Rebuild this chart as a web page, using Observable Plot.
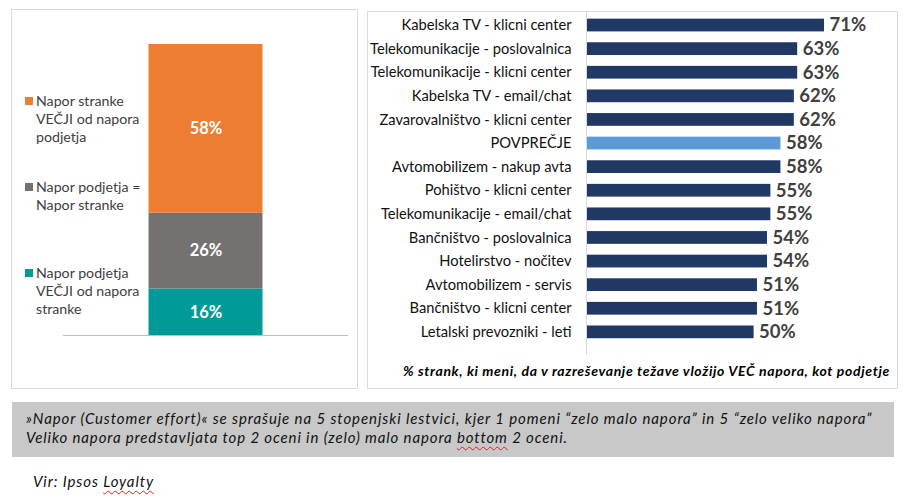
<!DOCTYPE html>
<html><head><meta charset="utf-8">
<script src="https://cdn.jsdelivr.net/npm/d3@7"></script>
<script src="https://cdn.jsdelivr.net/npm/@observablehq/plot@0.6"></script>
<style>
body{margin:0;background:#fff;font-family:Lato,"Open Sans",sans-serif;}
#page{position:relative;width:907px;height:498px;overflow:hidden;background:#fff;}
.box{position:absolute;border:1px solid #d9d9d9;box-sizing:border-box;}
.box svg{position:absolute;left:0;top:0;overflow:visible;}
.leg{position:absolute;left:13px;font-size:14.2px;line-height:18px;color:#404040;}
.leg .sw{position:absolute;left:0;top:5px;width:8px;height:8px;}
.leg .tx{position:absolute;left:11px;top:0;width:114px;}
#caption{position:absolute;right:7px;top:350px;font-size:14px;font-weight:bold;font-style:italic;color:#000;white-space:nowrap;}
#note{position:absolute;left:12px;top:402px;width:882px;height:55px;background:#c8c8c8;box-sizing:border-box;padding:7px 0 0 14px;font-size:15px;line-height:19px;font-style:italic;color:#111;white-space:nowrap;}
#src{position:absolute;left:33px;top:472px;font-size:15px;font-style:italic;color:#111;white-space:nowrap;}
.sq{text-decoration:underline wavy #e02020;text-decoration-thickness:1px;text-underline-offset:3px;}
</style></head><body>
<div id="page">
  <div id="left" class="box" style="left:11px;top:9px;width:347px;height:380px;"></div>
  <div id="right" class="box" style="left:367px;top:11px;width:531px;height:378px;">
    <div id="caption"><span id="capText">% strank, ki meni, da v razreševanje težave vložijo VEČ napora, kot podjetje</span></div>
  </div>
  <div id="note"><span id="l1">»Napor (Customer effort)« se sprašuje na 5 stopenjski lestvici, kjer 1 pomeni “zelo malo napora” in 5 “zelo veliko napora”</span><br><span id="l2">Veliko napora predstavljata top 2 oceni in (zelo) malo napora <span class="sq">bottom</span> 2 oceni.</span></div>
  <div id="src"><span id="srcText">Vir: Ipsos <span class="sq">Loyalty</span></span></div>
</div>
<script>
// ---- Left chart data ----
const segments = ["Napor podjetja VEČJI od napora stranke", "Napor podjetja = Napor stranke", "Napor stranke VEČJI od napora podjetja"];
const shares = [16, 26, 58];
const segmentColors = ["#009B98", "#767171", "#ED7D31"];
const groupName = "Skupaj";

// ---- Right chart data ----
const categories = [
  "Kabelska TV - klicni center",
  "Telekomunikacije - poslovalnica",
  "Telekomunikacije - klicni center",
  "Kabelska TV - email/chat",
  "Zavarovalništvo - klicni center",
  "POVPREČJE",
  "Avtomobilizem - nakup avta",
  "Pohištvo - klicni center",
  "Telekomunikacije - email/chat",
  "Bančništvo - poslovalnica",
  "Hotelirstvo - nočitev",
  "Avtomobilizem - servis",
  "Bančništvo - klicni center",
  "Letalski prevozniki - leti"
];
const values = [71, 63, 63, 62, 62, 58, 58, 55, 55, 54, 54, 51, 51, 50];
const averageLabel = "POVPREČJE";

// ---- Left: stacked column ----
const leftData = segments.map((s, i) => ({group: groupName, segment: s, share: shares[i]}));
const left = Plot.plot({
  width: 345, height: 378,
  marginTop: 34, marginBottom: 53, marginLeft: 51, marginRight: 9,
  style: {fontFamily: "Lato, sans-serif", background: "transparent"},
  x: {domain: [groupName], padding: 0.4286, round: false, axis: null},
  y: {domain: [0, 100], axis: null},
  color: {domain: segments, range: segmentColors},
  marks: [
    Plot.barY(leftData, {x: "group", y: "share", fill: "segment", order: null}),
    Plot.ruleY([0], {stroke: "#bfbfbf"}),
    Plot.text(leftData, Plot.stackY({x: "group", y: "share", order: null, text: d => d.share + "%",
      fill: "white", fontWeight: "bold", fontSize: 16.5}))
  ]
});
const leftBox = document.getElementById("left");
leftBox.appendChild(left);
const legendTops = {2: 82, 1: 168, 0: 254};
[2, 1, 0].forEach(i => {
  const d = document.createElement("div");
  d.className = "leg";
  d.style.top = legendTops[i] + "px";
  d.innerHTML = `<div class="sw" style="background:${segmentColors[i]}"></div><div class="tx">${segments[i]}</div>`;
  leftBox.appendChild(d);
});

// ---- Right: horizontal bars ----
const rightData = categories.map((c, i) => ({category: c, value: values[i]}));
const right = Plot.plot({
  width: 529, height: 376,
  marginTop: 4.3, marginBottom: 47.4, marginLeft: 218, marginRight: 73,
  style: {fontFamily: "Lato, sans-serif", color: "#111", background: "transparent"},
  x: {domain: [0, d3.max(values)], axis: null},
  y: {domain: categories, paddingInner: 0.46, paddingOuter: 0.1, round: false, axis: null},
  color: {type: "identity"},
  marks: [
    Plot.barX(rightData, {x: "value", y: "category",
      fill: d => d.category === averageLabel ? "#5B9BD5" : "#1F3864"}),
    Plot.ruleX([0], {stroke: "#d9d9d9", insetTop: -5, insetBottom: -14}),
    Plot.axisY({tickSize: 0, tickPadding: 15, fontSize: 14.7, fill: "#111", label: null}),
    Plot.text(rightData, {x: "value", y: "category", text: d => d.value + "%", textAnchor: "start",
      dx: 5, fontWeight: "bold", fontSize: 18.5, fill: "#404040"})
  ]
});
document.getElementById("right").appendChild(right);

// stretch the caption texts to the widths of the reference
function fit(id, target) {
  const el = document.getElementById(id);
  const n = el.textContent.length;
  const w = el.getBoundingClientRect().width;
  el.style.letterSpacing = ((target - w) / n) + "px";
}
fit("l1", 846);
fit("l2", 541);
fit("capText", 487);
fit("srcText", 121);
</script>
</body></html>
